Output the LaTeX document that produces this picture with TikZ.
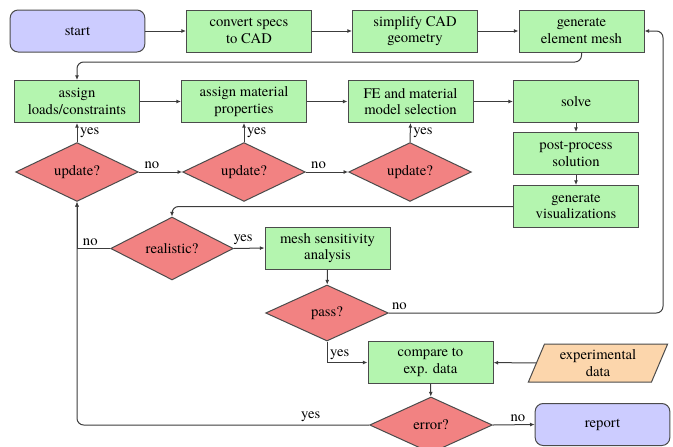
\documentclass[tikz,border=0pt]{standalone}
\usepackage{fontspec}
\setmainfont{texgyretermes-regular.otf}[BoldFont=texgyretermes-bold.otf,ItalicFont=texgyretermes-italic.otf]
\usetikzlibrary{shapes.geometric,arrows.meta}

\tikzset{every picture/.style={line width=0.75pt}}
\tikzset{
  txt/.style={font=\fontsize{11}{12.5}\selectfont},
  proc/.style={txt,draw={rgb,255:red,75;green,75;blue,75},fill={rgb,255:red,180;green,245;blue,175},
    minimum width=93.75pt,minimum height=31.5pt,inner sep=1pt,align=center},
  term/.style={proc,fill={rgb,255:red,204;green,204;blue,255},rounded corners=6pt,minimum width=101pt},
  decide/.style={txt,diamond,draw={rgb,255:red,75;green,75;blue,75},fill={rgb,255:red,242;green,130;blue,130},
    minimum width=92pt,minimum height=42pt,inner sep=0pt},
  iodata/.style={txt,trapezium,trapezium left angle=68,trapezium right angle=112,trapezium stretches=true,
    draw={rgb,255:red,75;green,75;blue,75},fill={rgb,255:red,252;green,214;blue,172},
    minimum width=105pt,minimum height=28.5pt,inner sep=1pt,align=center},
  conn/.style={draw={rgb,255:red,60;green,60;blue,60},-{Latex[length=3.5pt,width=3pt]}},
  lbl/.style={txt,inner sep=2pt}
}

\begin{document}
\begin{tikzpicture}[x=0.75pt,y=0.75pt,yscale=-1,xscale=1]
\useasboundingbox (0,0) rectangle (673,446);

%Row 1
\node[term] (start) at (77.5,31) {start};
\node[proc] (cad) at (249,31) {convert specs\\to CAD};
\node[proc] (simp) at (415,31) {simplify CAD\\geometry};
\node[proc] (mesh) at (581.5,31) {generate\\element mesh};
%Row 2
\node[proc] (loads) at (77,101.5) {assign\\loads/constraints};
\node[proc] (matl) at (244,101.5) {assign material\\properties};
\node[proc] (femod) at (410.5,101.5) {FE and material\\model selection};
\node[proc] (solve) at (576,101.5) {solve};
\node[proc] (post) at (576,153.5) {post-process\\solution};
\node[proc] (vis) at (576,206.5) {generate\\visualizations};
%Decisions
\node[decide] (upda) at (77,172) {update?};
\node[decide] (updb) at (244,172) {update?};
\node[decide] (updc) at (410,172) {update?};
\node[decide] (real) at (172,248.5) {realistic?};
\node[proc] (sens) at (327.5,248) {mesh sensitivity\\analysis};
\node[decide] (pass) at (327,313) {pass?};
\node[proc] (comp) at (430.5,362.5) {compare to\\exp. data};
\node[iodata] (expd) at (598,363) {experimental\\data};
\node[decide] (err) at (431,425) {error?};
\node[term] (rep) at (602.5,424.5) {report};

%Free corners
\coordinate (rowb) at (0,62);
\coordinate (back) at (663,31);

%Straight Lines
\draw[conn] (start) -- (cad);
\draw[conn] (cad) -- (simp);
\draw[conn] (simp) -- (mesh);
\draw[conn,rounded corners=5pt] (mesh.south) |- (rowb -| loads.north) -- (loads.north);
\draw[conn] (loads) -- (matl);
\draw[conn] (matl) -- (femod);
\draw[conn] (femod) -- (solve);
\draw[conn] (solve) -- (post);
\draw[conn] (post) -- (vis);
%Update branches
\draw[conn] (upda.north) -- node[lbl,right] {yes} (loads.south);
\draw[conn] (updb.north) -- node[lbl,right] {yes} (matl.south);
\draw[conn] (updc.north) -- node[lbl,right] {yes} (femod.south);
\draw[conn] (upda.east) -- node[lbl,above,pos=0.3] {no} (updb.west);
\draw[conn] (updb.east) -- node[lbl,above,pos=0.3] {no} (updc.west);
%Check loop
\draw[conn,rounded corners=5pt] (vis.west) -| (real.north);
\draw[conn] (real.east) -- node[lbl,above,pos=0.3] {yes} (sens.west);
\draw[conn] (real.west) -| node[lbl,above,pos=0.3] {no} (upda.south);
\draw[conn] (sens) -- (pass);
\draw[conn,rounded corners=5pt] (pass.east) -| (back) -- (mesh.east);
\node[lbl,above right] (nolbl) at (pass.east) {no};
\draw[conn] (pass.south) |- node[lbl,pos=0.5,anchor=south west] {yes} (comp.west);
\draw[conn] (expd) -- (comp);
\draw[conn] (comp) -- (err);
\draw[conn] (err.east) -- node[lbl,above,pos=0.6] {no} (rep.west);
\draw[conn,rounded corners=5pt] (err.west) -| node[lbl,above,pos=0.1] {yes} (upda.south);
\end{tikzpicture}
\end{document}
